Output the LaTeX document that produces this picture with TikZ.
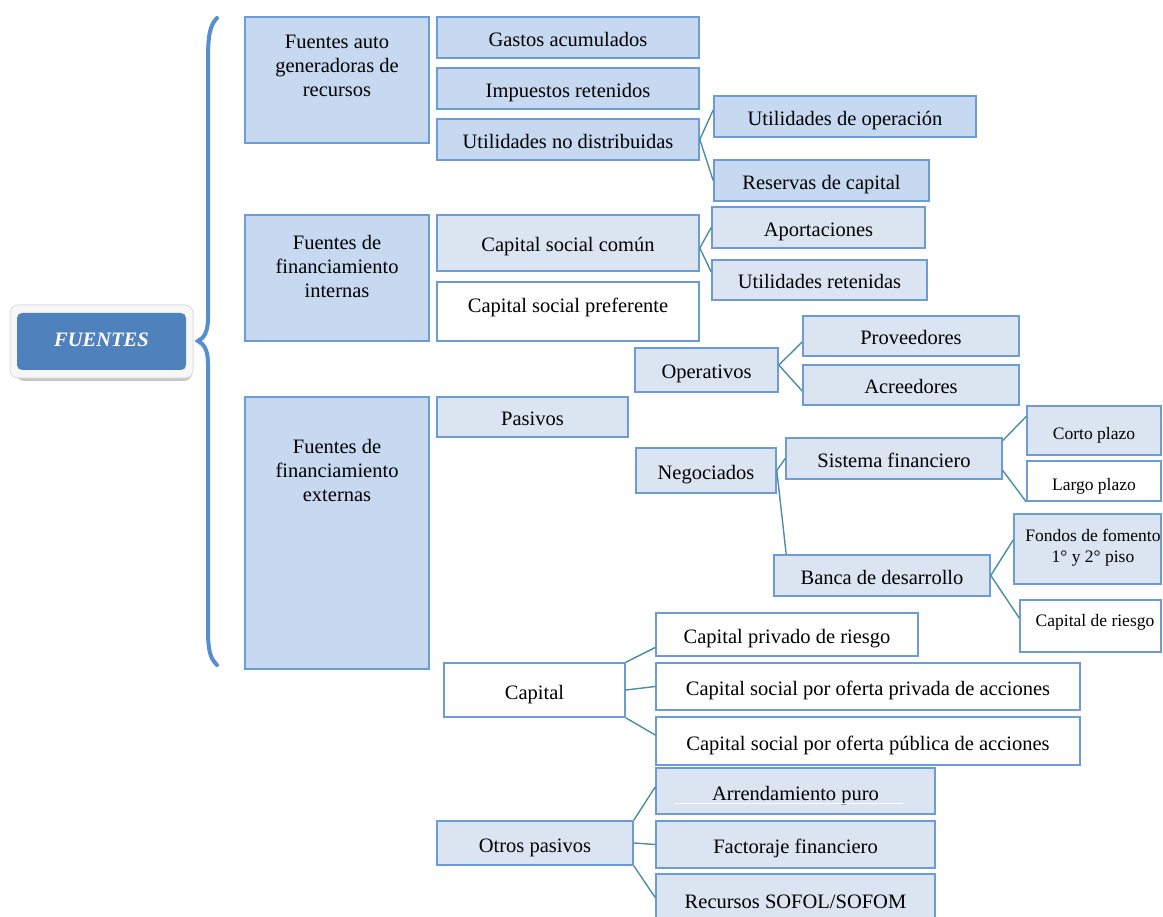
\documentclass[tikz,border=0pt]{standalone}
\usepackage{fontspec}
\setmainfont{Liberation Serif}
\usetikzlibrary{calc}
\definecolor{bdr}{RGB}{108,155,216}
\definecolor{fillA}{RGB}{198,217,241}
\definecolor{fillB}{RGB}{219,229,241}
\definecolor{conncol}{RGB}{75,142,158}
\definecolor{bracecol}{RGB}{85,142,213}
\definecolor{headblue}{RGB}{79,129,189}
\newcommand\smallfnt{\fontsize{17.5}{21}\selectfont}
\newcommand\mybox[7]{\node[box,fill=#6,minimum width=#4-#2,minimum height=#5-#3] (#1) at ({(#2+#4)/2},{(#3+#5)/2}) {#7};}
\begin{document}
\begin{tikzpicture}[x=1pt,y=-1pt,
  box/.style={draw=bdr,line width=1.6pt,inner sep=2pt,align=center,text=black,text height=19pt,text depth=1pt,font=\fontsize{20.5}{24}\selectfont},
  lbl/.style={inner sep=0pt,align=center,text=black,font=\fontsize{20.5}{24}\selectfont},
  cn/.style={draw=conncol,line width=1.4pt}]
\useasboundingbox (0,0) rectangle (1163,917);

% FUENTES head
\node[fill=gray!45,rounded corners=8pt,minimum width=176,minimum height=70] (fshadow) at (104,346) {};
\node[draw=gray!25,fill=gray!6,line width=1pt,rounded corners=8pt,minimum width=183,minimum height=73] (fframe) at (101.5,341.5) {};
\node[fill=headblue,rounded corners=5pt,minimum width=169,minimum height=57,text=white,font=\fontsize{20.5}{24}\selectfont\bfseries\itshape] (fuentes) at (101.5,341.5) {\raisebox{3pt}{FUENTES}};

% brace
\draw[bracecol,line width=4pt,line cap=round]
  (217,18) .. controls (210,25) and (208,35) .. (208,60) -- (208,318)
  .. controls (208,332) and (204,338) .. (198,341)
  .. controls (204,344) and (208,350) .. (208,364) -- (208,630)
  .. controls (208,650) and (210,658) .. (217,665);

% column 1
\mybox{a1}{245}{17}{429}{143}{fillA}{}
\node[lbl] (a1t) at (337,66) {Fuentes auto\\generadoras de\\recursos};
\mybox{a2}{245}{215}{429}{341}{fillA}{}
\node[lbl] (a2t) at (337,266) {Fuentes de\\financiamiento\\internas};
\mybox{a3}{245}{397}{429}{669}{fillA}{}
\node[lbl] (a3t) at (337,470) {Fuentes de\\financiamiento\\externas};

% group 1
\mybox{ga}{437}{17}{699}{58}{fillA}{Gastos acumulados}
\mybox{ir}{437}{68}{699}{109}{fillA}{Impuestos retenidos}
\mybox{und}{437}{119}{699}{160}{fillA}{Utilidades no distribuidas}
\mybox{uo}{714}{96}{976}{137}{fillA}{Utilidades de operación}
\mybox{rc}{714}{160}{929}{201}{fillA}{Reservas de capital}

% group 2
\mybox{csc}{437}{215}{699}{271}{fillB}{Capital social común}
\mybox{csp}{437}{282}{699}{341}{white}{}
\node[lbl] (cspt) at (568,307) {Capital social preferente};
\mybox{apo}{712}{207}{925}{248}{fillB}{Aportaciones}
\mybox{ure}{712}{260}{927}{300}{fillB}{Utilidades retenidas}

% group 3
\mybox{pas}{437}{397}{628}{437}{fillB}{Pasivos}
\mybox{ope}{635}{348}{778}{392}{fillB}{Operativos}
\mybox{prov}{803}{316}{1019}{356}{fillB}{Proveedores}
\mybox{acr}{803}{365}{1019}{405}{fillB}{Acreedores}
\mybox{neg}{636}{448}{776}{493}{fillB}{Negociados}
\mybox{sf}{786}{438}{1002}{479}{fillB}{Sistema financiero}
\mybox{cp}{1027}{406}{1161}{455}{fillB}{\smallfnt Corto plazo}
\mybox{lp}{1027}{461}{1161}{501}{white}{\smallfnt Largo plazo}
\mybox{bd}{774}{555}{990}{596}{fillB}{Banca de desarrollo}
\mybox{ff}{1014}{514}{1161}{584}{fillB}{}
\node[lbl,font=\smallfnt] (fft) at (1093,548) {Fondos de fomento\\1° y 2° piso};
\mybox{cr}{1020}{600}{1161}{652}{white}{}
\node[lbl,font=\smallfnt] (crt) at (1095,622) {Capital de riesgo};

\mybox{cap}{444}{663}{625}{717}{white}{Capital}
\mybox{cpr}{656}{613}{918}{656}{white}{Capital privado de riesgo}
\mybox{cspr}{656}{663}{1080}{710}{white}{Capital social por oferta privada de acciones}
\mybox{cspu}{656}{717}{1080}{765}{white}{Capital social por oferta pública de acciones}

\mybox{otr}{437}{821}{633}{865}{fillB}{Otros pasivos}
\mybox{arr}{656}{768}{935}{814}{fillB}{Arrendamiento puro}
\mybox{fac}{656}{821}{935}{868}{fillB}{Factoraje financiero}
\mybox{rec}{656}{874}{935}{925}{fillB}{Recursos SOFOL/SOFOM}
\draw[white,line width=1.2pt] ([xshift=20,yshift=11]arr.south west) -- ([xshift=-33,yshift=11]arr.south east);

% connectors
\draw[cn] (und.east) -- ([yshift=6.5]uo.west);
\draw[cn] (und.east) -- (rc.west);
\draw[cn] ([yshift=-5]csc.east) -- (apo.west);
\draw[cn] ([yshift=-5]csc.east) -- ([yshift=8]ure.west);
\draw[cn] ([yshift=5]ope.east) -- ([yshift=-6]prov.west);
\draw[cn] ([yshift=5]ope.east) -- ([yshift=-6]acr.west);
\draw[cn] (neg.east) -- (sf.west);
\draw[cn] (neg.east) -- ([xshift=13]bd.north west);
\draw[cn] ([yshift=18]sf.east) -- ([yshift=14]cp.west);
\draw[cn] ([yshift=-12]sf.east) -- (lp.south west);
\draw[cn] (bd.east) -- ([yshift=9]ff.west);
\draw[cn] (bd.east) -- ([yshift=8]cr.west);
\draw[cn] (cap.north east) -- ([yshift=-13]cpr.west);
\draw[cn] (cap.east) -- (cspr.west);
\draw[cn] (cap.south east) -- ([yshift=6]cspu.west);
\draw[cn] (otr.north east) -- ([yshift=4]arr.west);
\draw[cn] (otr.east) -- (fac.west);
\draw[cn] (otr.south east) -- ([yshift=2]rec.west);
\end{tikzpicture}
\end{document}
